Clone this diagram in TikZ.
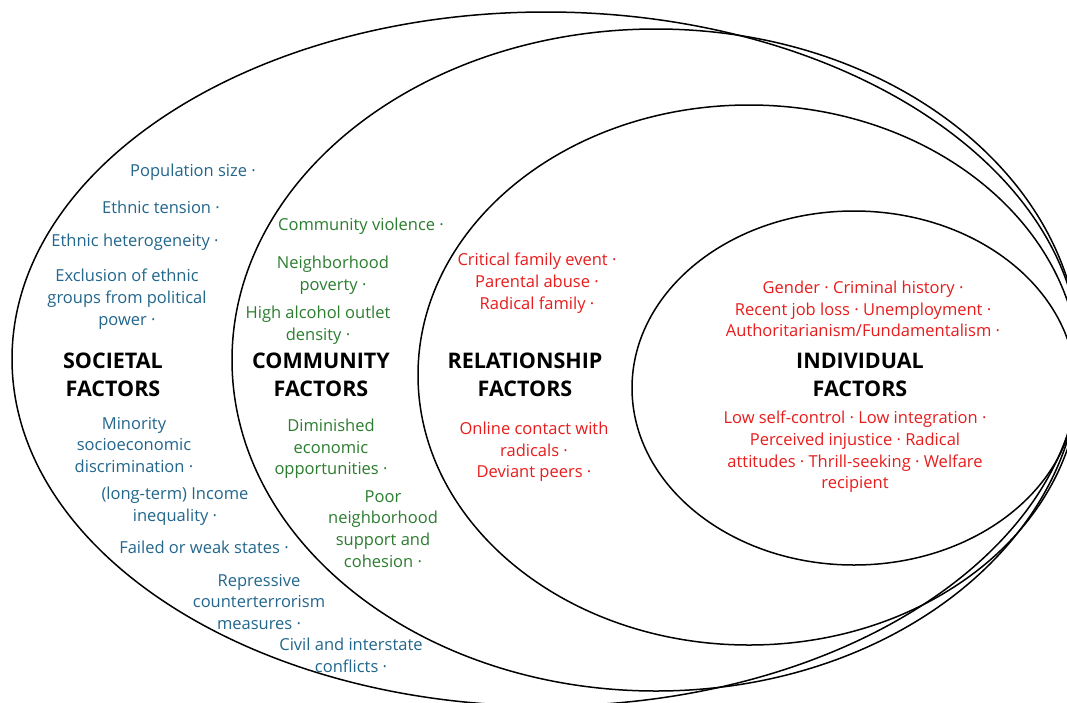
\documentclass[tikz,border=0pt]{standalone}
\usepackage{fontspec}
\setmainfont{Open Sans}
\definecolor{socblue}{RGB}{34,102,140}
\definecolor{comgreen}{RGB}{44,125,48}
\definecolor{indred}{RGB}{232,28,28}
\begin{document}
\begin{tikzpicture}[x=1pt,y=-1pt,
  ring/.style={draw=black,line width=1.5pt},
  item/.style={align=center,inner sep=0pt,font=\fontsize{16.5}{21.7}\selectfont},
  soc/.style={item,text=socblue},
  com/.style={item,text=comgreen},
  ind/.style={item,text=indred},
  head/.style={align=center,inner sep=0pt,font=\fontsize{21.5}{28}\selectfont\bfseries}]
\useasboundingbox (0,0) rectangle (1067,702);
\fill[white] (0,0) rectangle (1067,702);

% four nested ellipses, cut by the page edge on the right
\begin{scope}
  \clip (0,0) rectangle (1067,702);
  \draw[ring] (546,359) ellipse [x radius=534, y radius=347];
  \draw[ring] (656,360) ellipse [x radius=424, y radius=331];
  \draw[ring] (749,375) ellipse [x radius=331, y radius=270];
  \draw[ring] (854,388) ellipse [x radius=222, y radius=177];
\end{scope}

% societal level
\node[soc] (s1) at (193,172) {Population size ·};
\node[soc] (s2) at (161,207) {Ethnic tension ·};
\node[soc] (s3) at (135,242) {Ethnic heterogeneity ·};
\node[soc] (s4) at (127,299) {Exclusion of ethnic\\groups from political\\power ·};
\node[head] (sh) at (113,375) {SOCIETAL\\FACTORS};
\node[soc] (s5) at (134,445) {Minority\\socioeconomic\\discrimination ·};
\node[soc] (s6) at (175,506) {(long-term) Income\\inequality ·};
\node[soc] (s7) at (204,547) {Failed or weak states ·};
\node[soc] (s8) at (259,602) {Repressive\\counterterrorism\\measures ·};
\node[soc] (s9) at (351,655) {Civil and interstate\\conflicts ·};

% community level
\node[com] (c1) at (361,226) {Community violence ·};
\node[com] (c2) at (333,275) {Neighborhood\\poverty ·};
\node[com] (c3) at (318,325) {High alcohol outlet\\density ·};
\node[head] (ch) at (321,375) {COMMUNITY\\FACTORS};
\node[com] (c4) at (331,449) {Diminished\\economic\\opportunities ·};
\node[com] (c5) at (383,529) {Poor\\neighborhood\\support and\\cohesion ·};

% relationship level
\node[ind] (r1) at (537,283) {Critical family event ·\\Parental abuse ·\\Radical family ·};
\node[head] (rh) at (525,375) {RELATIONSHIP\\FACTORS};
\node[ind] (r2) at (534,452) {Online contact with\\radicals ·\\Deviant peers ·};

% individual level
\node[ind] (i1) at (863,309) {Gender · Criminal history ·\\Recent job loss · Unemployment ·\\Authoritarianism/Fundamentalism ·};
\node[head] (ih) at (860,375) {INDIVIDUAL\\FACTORS};
\node[ind] (i2) at (855,452) {Low self-control · Low integration ·\\Perceived injustice · Radical\\attitudes · Thrill-seeking · Welfare\\recipient};
\end{tikzpicture}
\end{document}
